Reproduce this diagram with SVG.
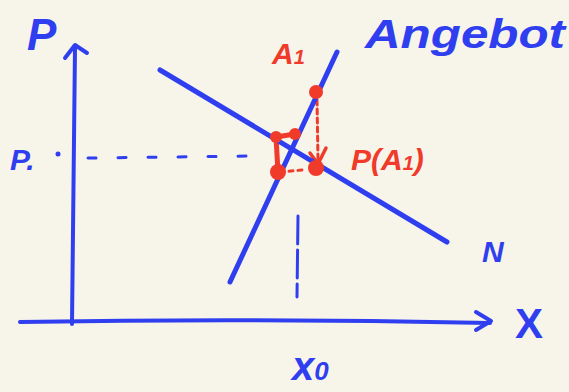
<svg xmlns="http://www.w3.org/2000/svg" width="569" height="392" viewBox="0 0 569 392">
<style>
.b{stroke:#2f3ff0;fill:none;stroke-linecap:round;stroke-linejoin:round}
.r{stroke:#f03a2a;fill:none;stroke-linecap:round;stroke-linejoin:round}
.tb{fill:#2f3ff0;font-family:"Liberation Sans",sans-serif;font-weight:bold}
.tr{fill:#f03a2a;font-family:"Liberation Sans",sans-serif;font-weight:bold}
.dot{fill:#f03a2a}
</style>
<rect width="569" height="392" fill="#f7f4ea"/>
<g id="connectors">
<path class="b" stroke-width="4" d="M72 324 L75 47"/>
<path class="b" stroke-width="4" d="M65 58 L75 45 L87 53"/>
<path class="b" stroke-width="4" d="M20 322 Q250 318 490 323"/>
<path class="b" stroke-width="4" d="M476 312 L491 321 L476 330"/>
<path class="b" stroke-width="3" stroke-dasharray="8 22" d="M88 158 L256 156"/>
<path class="b" stroke-width="3" stroke-dasharray="28 6" d="M298 216 L297 297"/>
<path class="r" stroke-width="3" stroke-dasharray="5 4" d="M317 100 L318 160"/>
<path class="r" stroke-width="3.5" d="M310 153 L318 164 L326 148"/>
<path class="r" stroke-width="5" d="M276 137 L295 134 M276 137 L278 172"/>
<path class="r" stroke-width="3" stroke-dasharray="4 5" d="M280 172 L302 170"/>
</g>
<g id="supply"><path class="b" stroke-width="5" d="M230 282 L337 52"/></g>
<g id="demand"><path class="b" stroke-width="5" d="M160 70 L447 242"/></g>
<g id="points">
<circle class="dot" cx="316" cy="92" r="7"/>
<circle class="dot" cx="276" cy="137" r="6"/>
<circle class="dot" cx="295" cy="134" r="6"/>
<circle class="dot" cx="278" cy="172" r="8"/>
<circle class="dot" cx="316" cy="168" r="8"/>
<circle fill="#2f3ff0" cx="58" cy="154" r="2.5"/>
</g>
<g id="labels">
<text class="tb" x="27" y="50" font-size="44" font-style="italic">P</text>
<text class="tb" x="10" y="170" font-size="30" font-style="italic">P.</text>
<text class="tb" x="365" y="48" font-size="40" font-style="italic" textLength="200" lengthAdjust="spacingAndGlyphs">Angebot</text>
<text class="tb" x="292" y="380" font-size="40" font-style="italic">x<tspan font-size="26">0</tspan></text>
<text class="tb" x="482" y="262" font-size="30" font-style="italic">N</text>
<text class="tb" x="515" y="338" font-size="42">X</text>
<text class="tr" x="272" y="64" font-size="30" font-style="italic">A<tspan font-size="20">1</tspan></text>
<text class="tr" x="351" y="170" font-size="30" font-style="italic">P(A<tspan font-size="20">1</tspan>)</text>
</g>
</svg>
